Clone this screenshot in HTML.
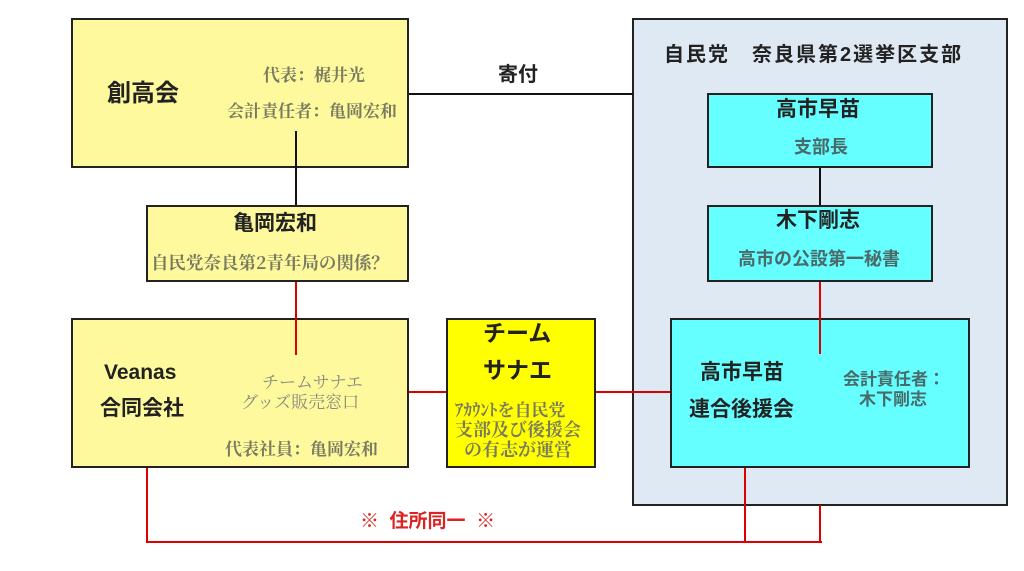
<!DOCTYPE html>
<html><head><meta charset="utf-8"><style>
body{margin:0;width:1024px;height:571px;background:#fff;position:relative;overflow:hidden;font-family:"Liberation Sans","Noto Sans CJK JP",sans-serif;}
.b{position:absolute;box-sizing:border-box;border:2px solid #222;}
.t{position:absolute;white-space:nowrap;font-weight:bold;line-height:1.2;}
.k{color:#222;font-size:21px;}
.g{color:#7a7a60;font-size:17px;font-family:"Noto Serif CJK SC","Liberation Serif",serif;}
.gc{color:#4a6a6a;font-size:17px;}
.l{position:absolute;}
</style></head><body>
<div class="b" style="left:632px;top:18px;width:376px;height:488px;background:#dfe9f4;"></div>
<div class="t k" style="left:664px;top:43px;font-size:20px;letter-spacing:2px;">自民党　奈良県第2選挙区支部</div>

<div class="l" style="left:408px;top:93px;width:225px;height:2px;background:#111"></div>
<div class="t k" style="left:498px;top:63px;font-size:20px;">寄付</div>
<div class="l" style="left:295px;top:131px;width:2px;height:75px;background:#111"></div>
<div class="l" style="left:295px;top:281px;width:2px;height:74px;background:#d00"></div>
<div class="l" style="left:408px;top:391px;width:38px;height:2px;background:#d00"></div>
<div class="l" style="left:595px;top:391px;width:76px;height:2px;background:#d00"></div>
<div class="l" style="left:819px;top:167px;width:2px;height:38px;background:#111"></div>
<div class="l" style="left:819px;top:281px;width:2px;height:73px;background:#d00"></div>
<div class="l" style="left:146px;top:467px;width:2px;height:76px;background:#d00"></div>
<div class="l" style="left:146px;top:541px;width:676px;height:2px;background:#d00"></div>
<div class="l" style="left:744px;top:467px;width:2px;height:75px;background:#d00"></div>
<div class="l" style="left:819px;top:505px;width:2px;height:37px;background:#d00"></div>
<div class="t" style="left:360px;top:511px;color:#d22;font-size:19px;">※&nbsp; 住所同一&nbsp; ※</div>

<div class="b" style="left:71px;top:18px;width:338px;height:150px;background:#fdf99c;"></div>
<div class="t k" style="left:107px;top:80px;font-size:24px;">創高会</div>
<div class="t g" style="left:263px;top:64px;">代表：梶井光</div>
<div class="t g" style="left:227px;top:100px;">会計責任者：亀岡宏和</div>
<div class="l" style="left:295px;top:131px;width:2px;height:37px;background:#111"></div>

<div class="b" style="left:146px;top:205px;width:263px;height:77px;background:#fdf99c;"></div>
<div class="t k" style="left:233px;top:211px;">亀岡宏和</div>
<div class="t g" style="left:151px;top:252px;font-size:17.5px;">自民党奈良第2青年局の関係？</div>

<div class="b" style="left:71px;top:318px;width:338px;height:150px;background:#fdf99c;"></div>
<div class="l" style="left:295px;top:318px;width:2px;height:37px;background:#d00"></div>
<div class="t k" style="left:104px;top:360px;">Veanas</div>
<div class="t k" style="left:100px;top:396px;">合同会社</div>
<div class="t g" style="left:262px;top:371px;color:#8a8a80;font-weight:normal;">チームサナエ</div>
<div class="t g" style="left:241px;top:391px;color:#8a8a80;font-weight:normal;">グッズ販売窓口</div>
<div class="t g" style="left:225px;top:438px;">代表社員：亀岡宏和</div>

<div class="b" style="left:446px;top:318px;width:150px;height:150px;background:#ffff00;"></div>
<div class="t k" style="left:483px;top:320px;font-size:23px;">チーム</div>
<div class="t k" style="left:483px;top:357px;font-size:23px;">サナエ</div>
<div class="t g" style="left:455px;top:399px;font-size:17px;">ｱｶｳﾝﾄを自民党</div>
<div class="t g" style="left:455px;top:419px;font-size:18px;">支部及び後援会</div>
<div class="t g" style="left:464px;top:439px;font-size:18px;">の有志が運営</div>

<div class="b" style="left:707px;top:93px;width:226px;height:75px;background:#66ffff;"></div>
<div class="t k" style="left:776px;top:97px;">高市早苗</div>
<div class="t gc" style="left:794px;top:137px;font-size:18px;">支部長</div>
<div class="b" style="left:707px;top:205px;width:226px;height:77px;background:#66ffff;"></div>
<div class="t k" style="left:776px;top:208px;">木下剛志</div>
<div class="t gc" style="left:738px;top:249px;font-size:18px;">高市の公設第一秘書</div>

<div class="b" style="left:670px;top:318px;width:300px;height:150px;background:#66ffff;"></div>
<div class="l" style="left:819px;top:318px;width:2px;height:36px;background:#d00"></div>
<div class="t k" style="left:700px;top:360px;">高市早苗</div>
<div class="t k" style="left:689px;top:397px;">連合後援会</div>
<div class="t gc" style="left:843px;top:370px;">会計責任者：</div>
<div class="t gc" style="left:859px;top:390px;">木下剛志</div>
</body></html>
